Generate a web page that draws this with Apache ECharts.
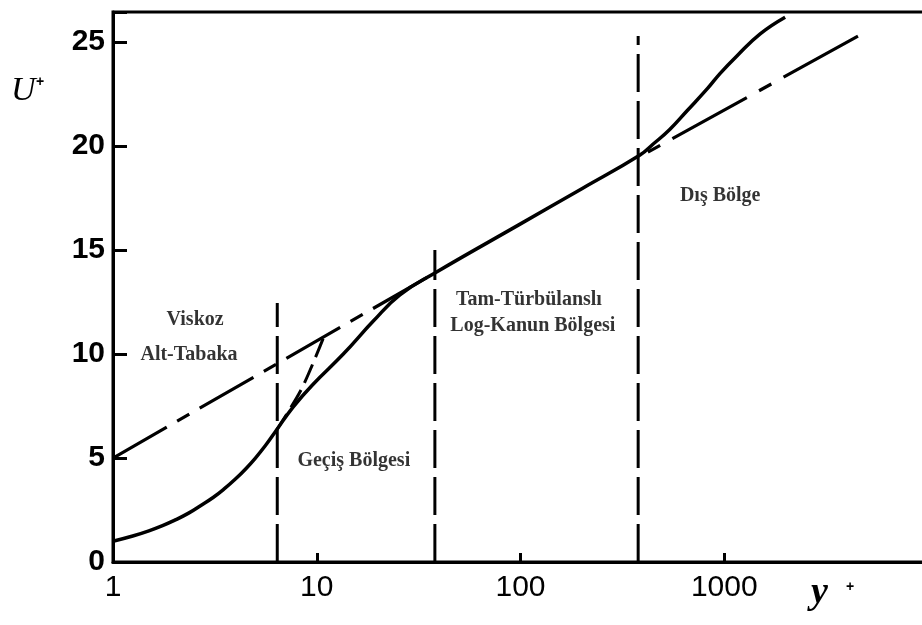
<!DOCTYPE html>
<html>
<head>
<meta charset="utf-8">
<script src="https://cdn.jsdelivr.net/npm/echarts@6/dist/echarts.min.js"></script>
<style>
html,body{margin:0;padding:0;background:#fff;}
#chart{width:922px;height:625px;}
</style>
</head>
<body>
<div id="chart"></div>
<script>
// ---- data ----
// solid profile (y+, U+)
const profileX = [1, 1.25, 1.5, 1.75, 2, 2.35, 2.7, 3.1, 3.5, 4, 4.5, 5, 5.6, 6.3, 7.65, 9.6, 13.5, 19, 25.6, 38, 100, 200, 386, 448, 540, 657, 824, 955, 1157, 1501, 1990];
const profileY = [1.0, 1.25, 1.5, 1.75, 2.0, 2.35, 2.72, 3.1, 3.5, 4.0, 4.5, 5.0, 5.6, 6.3, 7.45, 8.55, 10.0, 11.6, 12.85, 13.9, 16.26, 17.95, 19.57, 20.1, 20.8, 21.7, 22.75, 23.5, 24.35, 25.4, 26.2];
// log-law line (dash-dot), drawn in two visible parts
const logLawLeftX = [1, 38];
const logLawLeftY = [5.0, 13.9];
const logLawRightX = [386, 4750];
const logLawRightY = [19.5, 25.4];
// dashed continuation of U+ = y+
const sublayerExtX = [6.3, 8.4, 10.8];
const sublayerExtY = [6.3, 8.3, 10.8];
// vertical region boundaries (y+ position, top U+)
const boundaryX = [6.4, 38, 378];
const boundaryTop = [12.45, 15.0, 25.3];
// region annotations
const regionX = [2.53, 2.36, 15.2, 110, 115, 955];
const regionY = [11.63, 9.95, 4.86, 12.6, 11.35, 17.6];
const regionText = ['Viskoz', 'Alt-Tabaka', 'Geçiş Bölgesi', 'Tam-Türbülanslı', 'Log-Kanun Bölgesi', 'Dış Bölge'];
// axis ticks
const xTickLabels = ['1', '10', '100', '1000'];
const yTickLabels = [0, 5, 10, 15, 20, 25];

const zip = (xs, ys) => xs.map((x, i) => [x, ys[i]]);

const series = [];
boundaryX.forEach((bx, i) => {
  series.push({
    type: 'line', data: [[bx, 0], [bx, boundaryTop[i]]], symbol: 'none', silent: true,
    lineStyle: { color: '#000', width: 3, type: [38, 9] }, z: 2
  });
});
series.push({
  type: 'line', data: zip(logLawLeftX, logLawLeftY), symbol: 'none', silent: true,
  lineStyle: { color: '#000', width: 3.2, type: [62, 12, 14, 12], dashOffset: 0 }, z: 3
});
series.push({
  type: 'line', data: zip(logLawRightX, logLawRightY), symbol: 'none', silent: true,
  lineStyle: { color: '#000', width: 3.2, type: [85, 14, 14, 14], dashOffset: 90 }, z: 3
});
series.push({
  type: 'line', data: zip(sublayerExtX, sublayerExtY), symbol: 'none', smooth: 0.3, silent: true,
  lineStyle: { color: '#000', width: 3, type: [20, 8] }, z: 3
});
series.push({
  type: 'line', data: zip(profileX, profileY), symbol: 'none', smooth: 0.45, silent: true,
  lineStyle: { color: '#000', width: 3.5 }, z: 4
});
series.push({
  type: 'scatter', symbolSize: 0, silent: true,
  data: regionX.map((x, i) => [x, regionY[i], regionText[i]]),
  label: {
    show: true, position: [0, 0], align: 'center', verticalAlign: 'middle',
    formatter: p => p.data[2],
    fontFamily: '"Liberation Serif", "DejaVu Serif", serif', fontWeight: 'bold', fontSize: 20, color: '#000'
  },
  z: 5
});

const chart = echarts.init(document.getElementById('chart'), null, { renderer: 'canvas' });
chart.setOption({
  animation: false,
  backgroundColor: '#fff',
  grid: {
    left: 113, width: 815, top: 12, height: 550, containLabel: false, outerBoundsMode: 'none',
    show: true, borderColor: '#000', borderWidth: 3
  },
  xAxis: {
    type: 'log', logBase: 10, min: 1, max: 10000,
    axisLine: { lineStyle: { color: '#000', width: 3 } },
    axisTick: { inside: true, length: 9, lineStyle: { color: '#000', width: 3 } },
    minorTick: { show: false },
    splitLine: { show: false },
    axisLabel: {
      color: '#000', fontSize: 30, margin: 11,
      fontFamily: '"Liberation Sans", Arial, sans-serif',
      formatter: v => (xTickLabels.indexOf(String(Math.round(v))) >= 0 ? String(Math.round(v)) : '')
    }
  },
  yAxis: {
    type: 'value', min: 0, max: 26.45, interval: 5,
    axisLine: { lineStyle: { color: '#000', width: 3 } },
    axisTick: { inside: true, length: 14, lineStyle: { color: '#000', width: 3 } },
    splitLine: { show: false },
    axisLabel: {
      color: '#000', fontSize: 30, fontWeight: 'bold', margin: 8,
      fontFamily: '"Liberation Sans", Arial, sans-serif',
      formatter: v => (yTickLabels.indexOf(v) >= 0 ? String(v) : '')
    }
  },
  graphic: [
    { type: 'text', left: 11, top: 74, style: { text: 'U', font: 'italic 34px "Liberation Serif", serif', fill: '#000' } },
    { type: 'text', left: 36, top: 75, style: { text: '+', font: 'bold 14px "Liberation Sans", sans-serif', fill: '#000' } },
    { type: 'text', left: 811, top: 574, style: { text: 'y', font: 'italic bold 38px "Liberation Serif", serif', fill: '#000' } },
    { type: 'text', left: 846, top: 580, style: { text: '+', font: 'bold 14px "Liberation Sans", sans-serif', fill: '#000' } }
  ],
  series: series
});
</script>
</body>
</html>
